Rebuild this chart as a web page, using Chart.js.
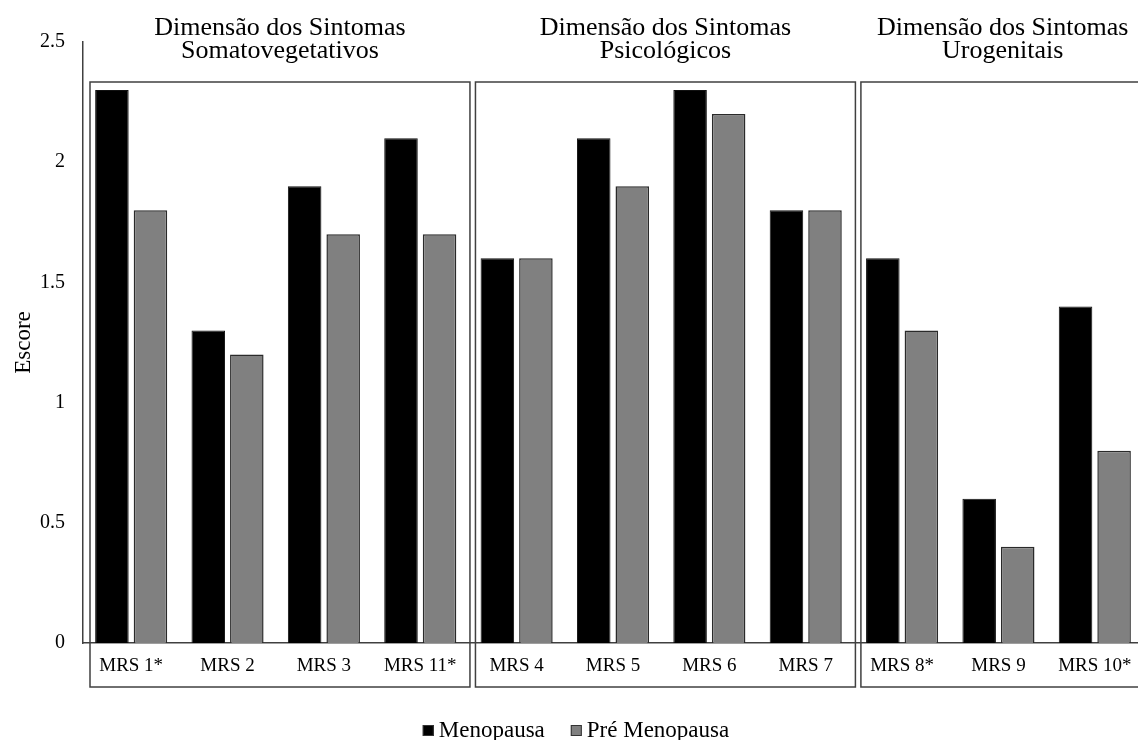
<!DOCTYPE html>
<html lang="pt">
<head>
  <meta charset="UTF-8">
  <title>Escore MRS</title>
  <style>
    html, body {
      margin: 0;
      padding: 0;
      background: #fff;
      overflow: hidden;
    }

    .chart-box {
      position: relative;
      width: 1146px;
      height: 740px;
    }
  </style>
</head>
<body>
<div class="chart-box">
  <canvas id="mrsChart"></canvas>
</div>

<script src="https://cdn.jsdelivr.net/npm/chart.js"></script>
<script>
  const categories = ['MRS 1*', 'MRS 2', 'MRS 3', 'MRS 11*', 'MRS 4', 'MRS 5', 'MRS 6', 'MRS 7', 'MRS 8*', 'MRS 9', 'MRS 10*'];
  const menopausa = [2.3, 1.3, 1.9, 2.1, 1.6, 2.1, 2.3, 1.8, 1.6, 0.6, 1.4];
  const preMenopausa = [1.8, 1.2, 1.7, 1.7, 1.6, 1.9, 2.2, 1.8, 1.3, 0.4, 0.8];
  const yTickValues = [0, 0.5, 1, 1.5, 2, 2.5];
  const yTickLabels = ['0', '0.5', '1', '1.5', '2', '2.5'];

  // dimensões: títulos e faixa de categorias de cada caixa
  const groupTitles = [
    ['Dimensão dos Sintomas', 'Somatovegetativos'],
    ['Dimensão dos Sintomas', 'Psicológicos'],
    ['Dimensão dos Sintomas', 'Urogenitais']
  ];
  const groupRanges = [[0, 3], [4, 7], [8, 10]];

  const SERIF = '"Liberation Serif", "Times New Roman", serif';

  const groupBoxes = {
    id: 'groupBoxes',
    afterDraw(chart) {
      const ctx = chart.ctx;
      const x = chart.scales.x;
      const area = chart.chartArea;
      const step = x.getPixelForValue(1) - x.getPixelForValue(0);

      ctx.save();
      ctx.strokeStyle = '#404040';
      ctx.lineWidth = 1.5;
      ctx.fillStyle = '#000';
      ctx.textAlign = 'center';
      ctx.textBaseline = 'alphabetic';
      ctx.font = '26px ' + SERIF;

      groupRanges.forEach(([a, b], i) => {
        const left = x.getPixelForValue(a) - step / 2 + 7;
        const right = x.getPixelForValue(b) + step / 2 + 1.5;
        const top = area.top + 40;
        const bottom = area.bottom + 44;
        ctx.strokeRect(left, top, right - left, bottom - top);

        const cx = (left + right) / 2;
        ctx.fillText(groupTitles[i][0], cx, 35);
        ctx.fillText(groupTitles[i][1], cx, 58);
      });

      // legenda
      ctx.font = '23px ' + SERIF;
      ctx.textAlign = 'left';
      const items = chart.data.datasets.map(ds => ({
        text: ds.label,
        color: ds.backgroundColor,
        width: 11 + 5 + ctx.measureText(ds.label).width
      }));
      const total = items.reduce((s, it) => s + it.width, 0) + 26 * (items.length - 1);
      let lx = 576 - total / 2;
      items.forEach(it => {
        ctx.fillStyle = it.color;
        ctx.fillRect(lx, 725, 11, 11);
        ctx.strokeStyle = '#333';
        ctx.lineWidth = 1;
        ctx.strokeRect(lx + 0.5, 725.5, 10, 10);
        ctx.fillStyle = '#000';
        ctx.fillText(it.text, lx + 16, 737);
        lx += it.width + 26;
      });
      ctx.restore();
    }
  };

  const ctx = document.getElementById('mrsChart').getContext('2d');
  new Chart(ctx, {
    type: 'bar',
    data: {
      labels: categories,
      datasets: [
        {
          label: 'Menopausa',
          data: menopausa,
          backgroundColor: '#000000',
          borderColor: '#111111',
          borderWidth: 1,
          categoryPercentage: 0.8,
          barPercentage: 0.87
        },
        {
          label: 'Pré Menopausa',
          data: preMenopausa,
          backgroundColor: '#808080',
          borderColor: '#2a2a2a',
          borderWidth: 1.5,
          categoryPercentage: 0.8,
          barPercentage: 0.87
        }
      ]
    },
    options: {
      responsive: true,
      maintainAspectRatio: false,
      animation: false,
      layout: {
        padding: { top: 42, right: 3, bottom: 0, left: 0 }
      },
      plugins: {
        legend: { display: false },
        tooltip: { enabled: false }
      },
      scales: {
        x: {
          grid: { display: false, drawTicks: false },
          border: { display: true, color: '#404040', width: 1.5 },
          ticks: {
            color: '#000',
            padding: 12,
            font: { family: SERIF, size: 19 }
          },
          afterFit(scale) {
            scale.height = 97;
          }
        },
        y: {
          min: 0,
          max: 2.5,
          grid: { display: false, drawTicks: false },
          border: { display: true, color: '#404040', width: 1.5 },
          afterBuildTicks(scale) {
            scale.ticks = yTickValues.map(v => ({ value: v }));
          },
          ticks: {
            color: '#000',
            padding: 18,
            font: { family: SERIF, size: 20 },
            callback: (v) => yTickLabels[yTickValues.indexOf(v)]
          },
          title: {
            display: true,
            text: 'Escore',
            color: '#000',
            padding: { top: 10, bottom: 0 },
            font: { family: SERIF, size: 23 }
          },
          afterFit(scale) {
            scale.width = 83;
          }
        }
      }
    },
    plugins: [groupBoxes]
  });
</script>
</body>
</html>
